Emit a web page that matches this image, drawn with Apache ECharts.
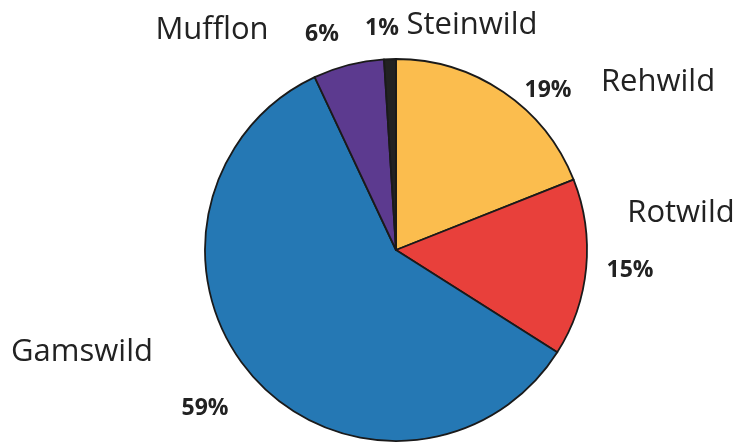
<!DOCTYPE html>
<html>
<head>
<meta charset="utf-8">
<script src="https://cdn.jsdelivr.net/npm/echarts@6/dist/echarts.min.js"></script>
<style>
  html, body { margin: 0; padding: 0; background: #fff; }
  #chart { width: 744px; height: 445px; }
</style>
</head>
<body>
<div id="chart"></div>
<script>
// Anteile in Prozent, im Uhrzeigersinn ab 12 Uhr
const categories = ['Rehwild', 'Rotwild', 'Gamswild', 'Mufflon', 'Steinwild']
const shares = [19, 15, 59, 6, 1]
const colors = ['#fbbd4e', '#e8403b', '#2578b4', '#5c3a8f', '#222222']

// Label-Positionen (Mitte) wie im Original
const pctPos = [[548, 90], [630, 270], [205, 408], [322, 34], [382, 28]]
const namePos = [[658, 82], [681, 213], [82, 352], [212, 30], [472, 25]]

const chart = echarts.init(document.getElementById('chart'))

const data = categories.map((name, i) => ({
  name,
  value: shares[i],
  itemStyle: { color: colors[i] },
}))

chart.setOption({
  animation: false,
  series: [
    {
      type: 'pie',
      center: [396, 250],
      radius: 191,
      startAngle: 90,
      clockwise: true,
      data,
      itemStyle: { borderColor: '#1a1a1a', borderWidth: 1.8 },
      label: {
        formatter: '{c}%',
        fontFamily: 'Open Sans',
        fontWeight: 'bold',
        fontSize: 23,
        color: '#222',
        overflow: 'none',
      },
      labelLine: { show: false },
      labelLayout: (p) => ({
        x: pctPos[p.dataIndex][0],
        y: pctPos[p.dataIndex][1],
        align: 'center',
        verticalAlign: 'middle',
      }),
    },
    {
      type: 'pie',
      center: [396, 250],
      radius: 191,
      startAngle: 90,
      clockwise: true,
      silent: true,
      data: categories.map((name, i) => ({ name, value: shares[i] })),
      itemStyle: { color: 'rgba(0,0,0,0)' },
      label: {
        formatter: '{b}',
        fontFamily: 'Open Sans',
        fontSize: 31,
        color: '#222',
        overflow: 'none',
      },
      labelLine: { show: false },
      labelLayout: (p) => ({
        x: namePos[p.dataIndex][0],
        y: namePos[p.dataIndex][1],
        align: 'center',
        verticalAlign: 'middle',
      }),
    },
  ],
})
</script>
</body>
</html>
